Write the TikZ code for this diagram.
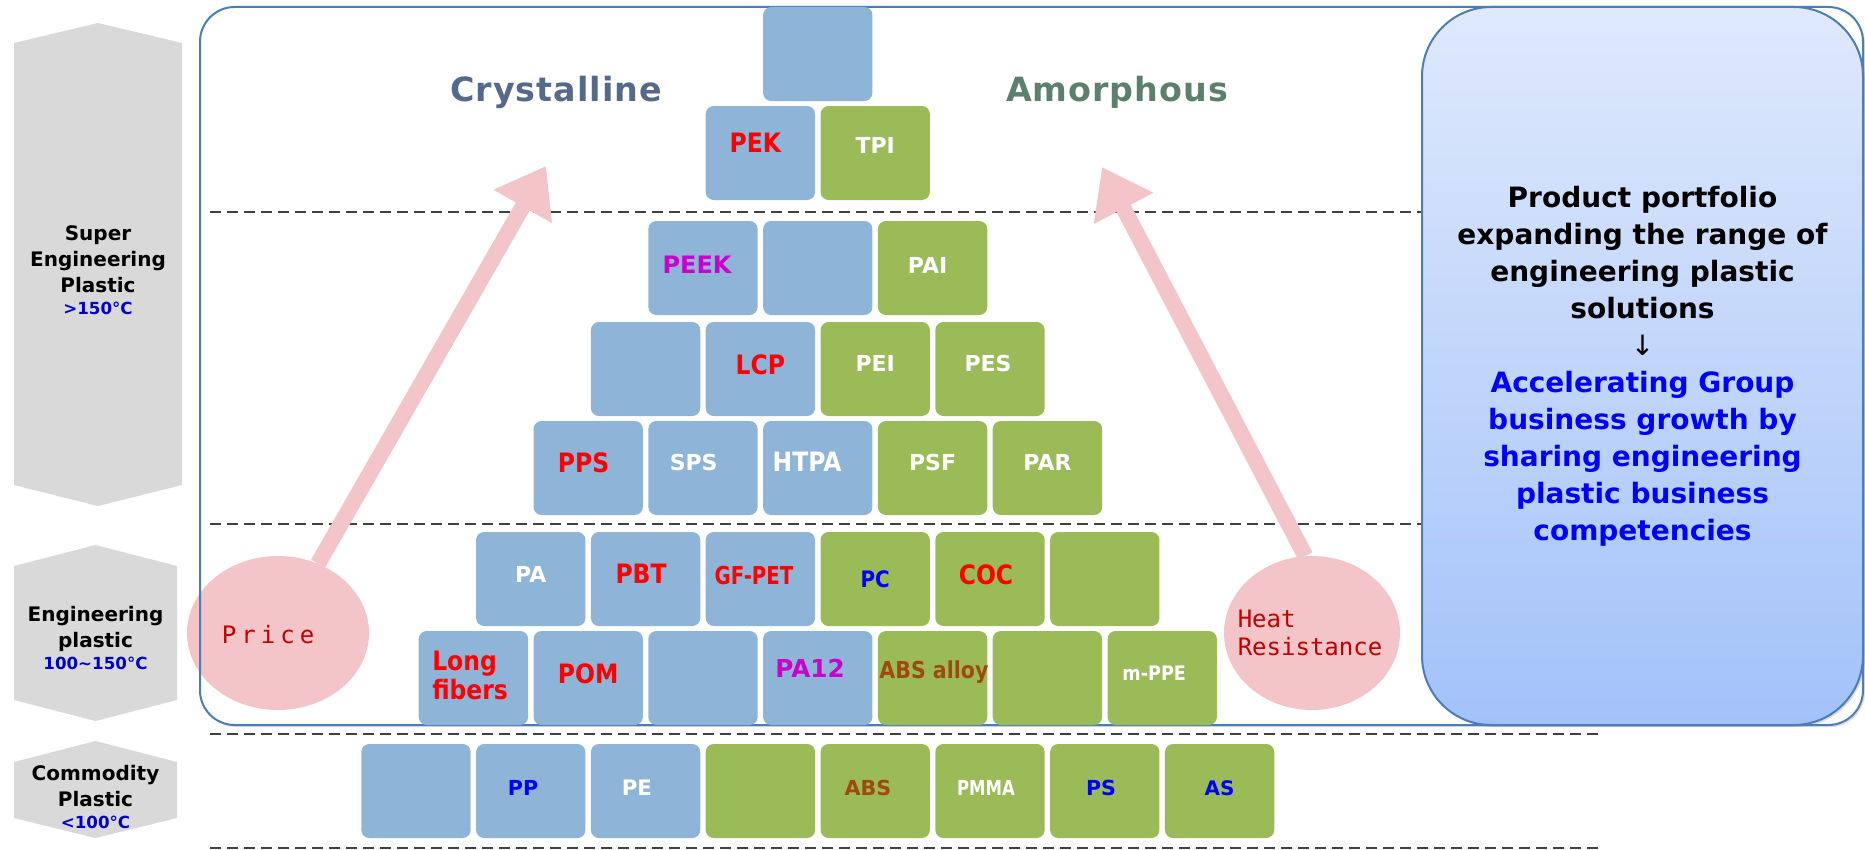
\documentclass[tikz,border=0pt]{standalone}
\usepackage{fontspec}
\setmainfont{DejaVu Sans}
\newfontfamily\monof{DejaVu Sans Mono}
\newfontfamily\narrowf{DejaVu Sans}[FakeStretch=0.88]
\newfontfamily\condf{DejaVu Sans}[FakeStretch=0.8]
\usetikzlibrary{arrows.meta,shapes.geometric,shadows,calc}
\definecolor{bblue}{HTML}{8EB4D7}
\definecolor{ggreen}{HTML}{9BBB59}
\definecolor{lgray}{HTML}{D9D9D9}
\definecolor{frameblue}{HTML}{4A7EBB}
\definecolor{dashgray}{HTML}{404040}
\definecolor{pinkc}{HTML}{F3C4C8}
\definecolor{darkred}{HTML}{C00000}
\definecolor{brownc}{HTML}{9E4A0E}
\definecolor{magc}{HTML}{CC00CC}
\definecolor{crys}{HTML}{55698A}
\definecolor{amor}{HTML}{5B806B}
\definecolor{boxtop}{HTML}{DFE9FC}
\definecolor{boxbot}{HTML}{A3C2F9}
\definecolor{pureblue}{HTML}{0000FF}
\definecolor{tempblue}{HTML}{0000CC}
\begin{document}
\begin{tikzpicture}[x=0.75pt,y=-0.75pt,
  blk/.style={minimum width=82pt,minimum height=70.5pt,inner sep=0pt,rounded corners=6pt},
  bb/.style={blk,fill=bblue},
  gb/.style={blk,fill=ggreen},
  lr/.style={text=red,font=\narrowf\bfseries\fontsize{20}{24}\selectfont},
  lw/.style={text=white,font=\bfseries\fontsize{16.5}{20}\selectfont},
  lwn/.style={text=white,font=\narrowf\bfseries\fontsize{20}{24}\selectfont},
  lwc/.style={text=white,font=\condf\bfseries\fontsize{15.5}{18}\selectfont},
  lm/.style={text=magc,font=\bfseries\fontsize{18}{22}\selectfont},
  lb/.style={text=pureblue,font=\bfseries\fontsize{15.5}{19}\selectfont},
  lbr/.style={text=brownc,font=\narrowf\bfseries\fontsize{17.5}{21}\selectfont},
  side/.style={align=center,font=\bfseries\fontsize{15}{19.5}\selectfont},
  temp/.style={text=tempblue,font=\bfseries\fontsize{12.5}{15}\selectfont},
  dline/.style={dashgray,line width=1.5pt,dash pattern=on 8.25pt off 4.5pt},
  parrow/.style={pinkc,line width=12pt,-{Triangle[width=48pt,length=35pt]}},
  pell/.style={ellipse,fill=pinkc,inner sep=0pt,minimum height=115.5pt},
  ptext/.style={text=darkred,font=\monof\fontsize{18}{21}\selectfont}
]
\useasboundingbox (0,0) rectangle (1865,849);
\fill[white] (0,0) rectangle (1865,849);

% left category shapes
\fill[lgray] (14,43) -- (98,23) -- (182,43) -- (182,485) -- (98,506) -- (14,485) -- cycle;
\fill[lgray] (14,566) -- (95.5,545) -- (177,566) -- (177,700) -- (95.5,721) -- (14,700) -- cycle;
\fill[lgray] (14,762) -- (95.5,741) -- (177,762) -- (177,818) -- (95.5,838) -- (14,818) -- cycle;
\node[side] (super) at (98,270) {Super\\Engineering\\Plastic\\[-3pt]\textcolor{tempblue}{\fontsize{12.5}{15}\selectfont >150°C}};
\node[side] (eng) at (95.5,638) {Engineering\\plastic\\[-3pt]\textcolor{tempblue}{\fontsize{12.5}{15}\selectfont 100\textasciitilde150°C}};
\node[side] (comm) at (95.5,797) {Commodity\\Plastic\\[-3pt]\textcolor{tempblue}{\fontsize{12.5}{15}\selectfont <100°C}};

% main frame
\path[fill=white,rounded corners=26pt,drop shadow={opacity=0.25,shadow xshift=1.5pt,shadow yshift=-1.5pt}] (200,7) rectangle (1863,725);

% dashed level lines
\draw[dline] (210,212) -- (1422,212);
\draw[dline] (210,524) -- (1422,524);
\draw[dline] (210,734) -- (1604,734);
\draw[dline] (210,848) -- (1604,848);

% titles
\node[text=crys,font=\bfseries\fontsize{25}{30}\selectfont] (crys) at (556,92) {\addfontfeatures{LetterSpace=3}Crystalline};
\node[text=amor,font=\bfseries\fontsize{25}{30}\selectfont] (amor) at (1117,92) {\addfontfeatures{LetterSpace=3}Amorphous};

% pink ellipses and arrows
\node[pell,minimum width=136.5pt] (price) at (278,633) {};
\node[pell,minimum width=132pt] (heat) at (1312,633) {};
\coordinate (tipL) at (546,166);
\coordinate (tipR) at (1102,167);
\draw[parrow] (price.60) -- (tipL);
\draw[parrow] (heat.95) -- (tipR);
\node[ptext] (pricet) at (268,635) {\addfontfeatures{LetterSpace=21}Price};
\node[ptext,align=left] (heatt) at (1310,633) {Heat\\Resistance};

% frame border on top
\draw[frameblue,line width=1.5pt,rounded corners=26pt] (200,7) rectangle (1863,725);

% blocks
\node[bb] (n07) at (817.8,54) {};
\node[bb,label={[lr,xshift=-3.75pt,yshift=7.5pt]center:PEK}] (n16) at (760.4,153) {};
\node[gb,label={[lw,yshift=6pt]center:TPI}] (n18) at (875.2,153) {};

\node[bb,label={[lm,xshift=-4.5pt,yshift=2.25pt]center:PEEK}] (n25) at (703,268) {};
\node[bb] (n27) at (817.8,268) {};
\node[gb,label={[lw,xshift=-3.75pt,yshift=2.25pt]center:PAI}] (n29) at (932.6,268) {};

\node[bb] (n34) at (645.6,369) {};
\node[bb,label={[lr,yshift=3pt]center:LCP}] (n36) at (760.4,369) {};
\node[gb,label={[lw,yshift=4.5pt]center:PEI}] (n38) at (875.2,369) {};
\node[gb,label={[lw,xshift=-1.5pt,yshift=4.5pt]center:PES}] (n310) at (990,369) {};

\node[bb,label={[lr,xshift=-3.5pt,yshift=3.75pt]center:PPS}] (n43) at (588.2,468) {};
\node[bb,label={[lw,xshift=-7pt,yshift=4.5pt]center:SPS}] (n45) at (703,468) {};
\node[bb,label={[lwn,xshift=-8pt,yshift=4.5pt]center:HTPA}] (n47) at (817.8,468) {};
\node[gb,label={[lw,yshift=4.5pt]center:PSF}] (n49) at (932.6,468) {};
\node[gb,label={[lw,yshift=4.5pt]center:PAR}] (n411) at (1047.4,468) {};

\node[bb,label={[lw,yshift=3.75pt]center:PA}] (n52) at (530.8,579) {};
\node[bb,label={[lr,xshift=-3.4pt,yshift=3.75pt]center:PBT}] (n54) at (645.6,579) {};
\node[bb,label={[text=red,font=\condf\bfseries\fontsize{18.5}{22}\selectfont,xshift=-4.8pt,yshift=2.25pt]center:GF-PET}] (n56) at (760.4,579) {};
\node[gb,label={[text=pureblue,font=\narrowf\bfseries\fontsize{17}{20}\selectfont]center:PC}] (n58) at (875.2,579) {};
\node[gb,label={[lr,xshift=-3pt,yshift=3pt]center:COC}] (n510) at (990,579) {};
\node[gb] (n512) at (1104.8,579) {};

\node[bb] (n61) at (473.4,678) {};
\node[bb,label={[lr,yshift=3pt]center:POM}] (n63) at (588.2,678) {};
\node[bb] (n65) at (703,678) {};
\node[bb,label={[lm,font=\bfseries\fontsize{18.5}{22}\selectfont,xshift=-5.8pt,yshift=7.5pt]center:PA12}] (n67) at (817.8,678) {};
\node[gb,label={[lbr,xshift=1pt,yshift=4.5pt]center:ABS alloy}] (n69) at (932.6,678) {};
\node[gb] (n611) at (1047.4,678) {};
\node[gb,label={[text=white,font=\narrowf\bfseries\fontsize{15}{18}\selectfont,xshift=-6pt,yshift=3.75pt]center:m-PPE}] (n613) at (1162.2,678) {};
\node[lr,anchor=west,align=left,inner sep=0pt,font=\narrowf\bfseries\fontsize{20}{21.75}\selectfont] (lf) at (432,675.5) {Long\\fibers};

\node[bb] (n70) at (416,791) {};
\node[bb,label={[lb,xshift=-5.8pt,yshift=2.25pt]center:PP}] (n72) at (530.8,791) {};
\node[bb,label={[lw,font=\bfseries\fontsize{16}{19}\selectfont,xshift=-6.5pt,yshift=2.25pt]center:PE}] (n74) at (645.6,791) {};
\node[gb] (n76) at (760.4,791) {};
\node[gb,label={[text=brownc,font=\bfseries\fontsize{15.5}{19}\selectfont,xshift=-5.4pt,yshift=2.25pt]center:ABS}] (n78) at (875.2,791) {};
\node[gb,label={[lwc,xshift=-3pt,yshift=2.25pt]center:PMMA}] (n710) at (990,791) {};
\node[gb,label={[lb,xshift=-2.8pt,yshift=2.25pt]center:PS}] (n712) at (1104.8,791) {};
\node[gb,label={[lb,font=\bfseries\fontsize{15}{19}\selectfont,yshift=2.25pt]center:AS}] (n714) at (1219.6,791) {};

% right summary box
\node[draw=frameblue,line width=1.5pt,rounded corners=52pt,top color=boxtop,bottom color=boxbot,
      minimum width=330.75pt,minimum height=538.5pt,inner sep=0pt,align=center,
      drop shadow={opacity=0.3,shadow xshift=1.5pt,shadow yshift=-1.5pt},
      font=\bfseries\fontsize{21}{27.75}\selectfont] (summary) at (1642.5,366)
  {Product portfolio\\expanding the range of\\engineering plastic\\solutions\\{\mdseries ↓}\\
   \textcolor{pureblue}{Accelerating Group}\\\textcolor{pureblue}{business growth by}\\
   \textcolor{pureblue}{sharing engineering}\\\textcolor{pureblue}{plastic business}\\
   \textcolor{pureblue}{competencies}};
\end{tikzpicture}
\end{document}
